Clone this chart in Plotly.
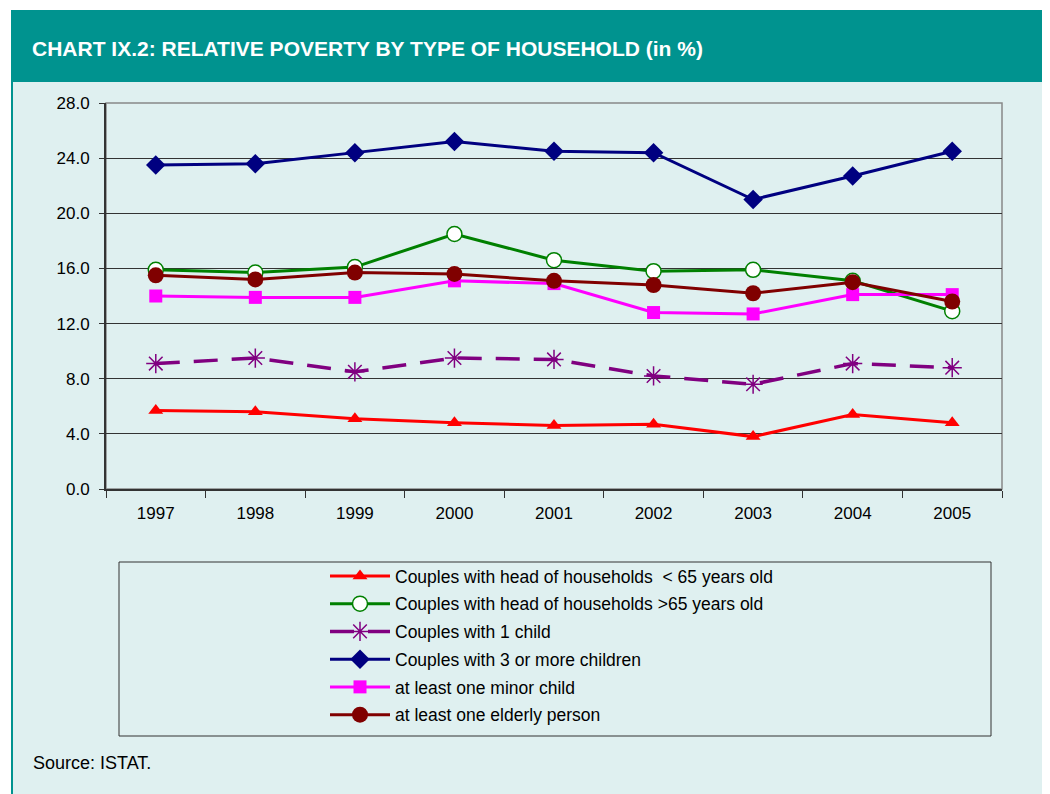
import plotly.graph_objects as go

years = ["1997", "1998", "1999", "2000", "2001", "2002", "2003", "2004", "2005"]
couples_under65 = [5.7, 5.6, 5.1, 4.8, 4.6, 4.7, 3.8, 5.4, 4.8]
couples_over65 = [15.9, 15.7, 16.1, 18.5, 16.6, 15.8, 15.9, 15.1, 12.9]
couples_1child = [9.1, 9.5, 8.5, 9.5, 9.4, 8.2, 7.6, 9.1, 8.8]
couples_3children = [23.5, 23.6, 24.4, 25.2, 24.5, 24.4, 21.0, 22.7, 24.5]
minor_child = [14.0, 13.9, 13.9, 15.1, 14.9, 12.8, 12.7, 14.1, 14.1]
elderly_person = [15.5, 15.2, 15.7, 15.6, 15.1, 14.8, 14.2, 15.0, 13.6]

PANEL = "#DFF0F0"
TEAL = "#00938F"
FONT = "Liberation Sans, Arial, sans-serif"

# page body has an 8px margin; paper coords expressed in reference pixels
def px(x):
    return (x - 106) / 896

def py(y):
    return (489 - y) / 386

fig = go.Figure()

series = [
    ("Couples with head of households  < 65 years old", couples_under65, "#FF0000", "solid",
     dict(symbol="triangle-up", size=13, color="#FF0000")),
    ("Couples with head of households >65 years old", couples_over65, "#008000", "solid",
     dict(symbol="circle", size=15, color="white", line=dict(color="#008000", width=1.5))),
    ("Couples with 1 child", couples_1child, "#800080", "24px,14px",
     dict(symbol="asterisk-open", size=16, color="#800080", line=dict(color="#800080", width=1.5))),
    ("Couples with 3 or more children", couples_3children, "#000080", "solid",
     dict(symbol="diamond", size=15, color="#000080")),
    ("at least one minor child", minor_child, "#FF00FF", "solid",
     dict(symbol="square", size=13, color="#FF00FF")),
    ("at least one elderly person", elderly_person, "#800000", "solid",
     dict(symbol="circle", size=16, color="#800000")),
]

for i, (name, vals, col, dash, mk) in enumerate(series):
    fig.add_trace(go.Scatter(
        x=years, y=vals, name=name, mode="lines+markers",
        line=dict(color=col, width=3.5 if dash != "solid" else 3, dash=dash),
        marker=mk, legendgroup=f"g{i}",
    ))

shapes = [
    # panel background
    dict(type="rect", xref="paper", yref="paper", x0=px(11), x1=px(1050),
         y0=py(800), y1=py(10), fillcolor=PANEL, line=dict(width=0), layer="below"),
    # header bar
    dict(type="rect", xref="paper", yref="paper", x0=px(11), x1=px(1050),
         y0=py(82), y1=py(10), fillcolor=TEAL, line=dict(width=0), layer="below"),
    # left teal border
    dict(type="rect", xref="paper", yref="paper", x0=px(11), x1=px(13),
         y0=py(800), y1=py(10), fillcolor=TEAL, line=dict(width=0), layer="below"),
    # plot border (top & right gray)
    dict(type="rect", xref="paper", yref="paper", x0=0, x1=1, y0=0, y1=1,
         line=dict(color="#888888", width=1.5), layer="below"),
    # legend box
    dict(type="rect", xref="paper", yref="paper", x0=px(119), x1=px(991),
         y0=py(736), y1=py(562), line=dict(color="#333333", width=1),
         fillcolor="rgba(0,0,0,0)"),
]

fig.update_layout(
    width=1042, height=786,
    margin=dict(l=98, r=48, t=95, b=305),
    paper_bgcolor="white",
    plot_bgcolor=PANEL,
    font=dict(family=FONT, size=16, color="#000000"),
    shapes=shapes,
    showlegend=True,
    legend=dict(
        x=px(325), xanchor="left",
        y=py(558), yanchor="top",
        bgcolor="rgba(0,0,0,0)", borderwidth=0,
        font=dict(family=FONT, size=17.5, color="#000000"),
        tracegroupgap=2, itemwidth=60,
    ),
    annotations=[
        dict(text="<b>CHART IX.2: RELATIVE POVERTY BY TYPE OF HOUSEHOLD (in %)</b>",
             xref="paper", yref="paper", x=px(30), y=py(49),
             xanchor="left", yanchor="middle", showarrow=False,
             font=dict(family=FONT, size=21, color="white")),
        dict(text="Source: ISTAT.", xref="paper", yref="paper",
             x=px(31), y=py(763), xanchor="left", yanchor="middle",
             showarrow=False, font=dict(family=FONT, size=18, color="#000000")),
    ],
)

fig.update_yaxes(
    range=[0, 28], dtick=4, tickformat=".1f",
    showgrid=True, gridcolor="#333333", gridwidth=1,
    showline=True, linecolor="#333333", linewidth=2,
    ticks="outside", ticklen=5, tickcolor="#333333",
    zeroline=False, tickfont=dict(size=17), ticklabelstandoff=6,
)
fig.update_xaxes(
    type="category", range=[-0.5, len(years) - 0.5], showgrid=False,
    showline=True, linecolor="#333333", linewidth=2,
    ticks="outside", ticklen=7, tickcolor="#333333", tickson="boundaries",
    tickfont=dict(size=17), ticklabelstandoff=8,
)

fig.write_html("out.html")
